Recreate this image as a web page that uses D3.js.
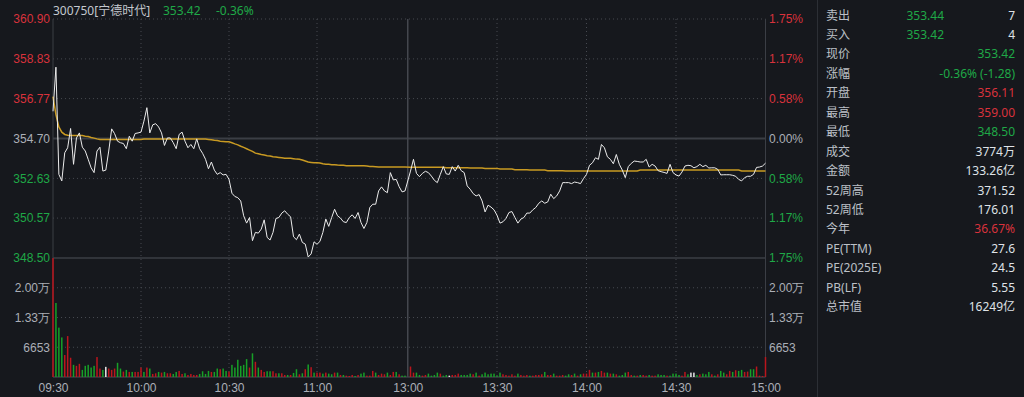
<!DOCTYPE html>
<html>
<head>
<meta charset="utf-8">
<script src="https://cdn.jsdelivr.net/npm/d3@7"></script>
<style>
  html, body { margin: 0; padding: 0; background: #16181d; }
  svg { display: block; font-family: "Noto Sans", "Noto Sans CJK SC", sans-serif; }
</style>
</head>
<body>
<div id="chart"></div>
<script>
// 300750 宁德时代 intraday, one value per minute (09:30-11:30, 13:01-15:00)
const prevClose = 354.70;

const price = [
  356.11, 358.40, 352.84, 352.50, 353.96, 354.22, 355.22, 353.36, 354.73, 354.99,
  354.25, 354.05, 353.62, 353.18, 352.93, 354.05, 354.25, 353.01, 353.06, 354.05,
  355.20, 354.95, 354.56, 354.48, 354.44, 354.17, 354.82, 354.56, 354.96, 354.99,
  355.03, 355.60, 356.30, 354.99, 355.41, 355.47, 355.30, 354.99, 354.34, 354.73,
  354.73, 354.48, 354.17, 354.91, 355.03, 354.56, 354.22, 354.39, 354.17, 354.68,
  354.17, 353.93, 353.62, 353.13, 353.48, 353.06, 352.84, 352.93, 352.81, 352.84,
  352.58, 351.86, 351.69, 351.63, 351.46, 350.69, 350.31, 350.60, 349.40, 349.83,
  349.79, 350.00, 350.48, 349.57, 349.43, 349.83, 350.55, 350.60, 350.83, 350.95,
  350.77, 350.64, 349.60, 349.45, 349.74, 349.31, 349.22, 348.55, 348.71, 349.34,
  349.21, 349.36, 349.83, 350.52, 350.14, 350.60, 351.03, 350.69, 350.57, 350.38,
  350.34, 350.60, 350.74, 350.55, 350.86, 350.34, 350.03, 350.34, 351.12, 351.29,
  351.29, 351.98, 352.19, 351.98, 351.89, 352.93, 352.55, 352.58, 352.20, 351.93,
  351.98, 353.01, 353.62, 352.89, 352.72, 352.89, 353.00, 352.93, 352.75, 352.53,
  352.41, 352.84, 353.24, 352.86, 352.84, 353.24, 353.01, 353.31, 353.03, 352.93,
  352.24, 352.07, 351.84, 351.72, 351.79, 351.46, 350.89, 351.24, 351.14, 351.00,
  350.72, 350.31, 350.38, 350.55, 350.86, 350.91, 350.60, 350.31, 350.52, 350.60,
  350.83, 350.83, 351.00, 351.12, 351.34, 351.46, 351.34, 351.41, 351.81, 351.58,
  351.72, 351.98, 352.41, 352.41, 352.41, 352.36, 352.44, 352.41, 352.36, 352.62,
  352.84, 353.31, 353.44, 353.70, 353.62, 354.39, 354.22, 353.75, 353.62, 353.39,
  353.87, 353.36, 353.06, 352.67, 353.24, 353.41, 353.53, 353.51, 353.48, 353.48,
  353.62, 353.22, 353.36, 353.27, 353.03, 352.98, 352.94, 352.89, 353.36, 352.93,
  352.81, 352.75, 352.96, 353.27, 353.31, 353.29, 353.18, 353.24, 353.36, 353.24,
  353.31, 353.17, 353.18, 353.18, 353.10, 352.81, 352.82, 352.82, 352.82, 352.79,
  352.74, 352.58, 352.50, 352.67, 352.74, 352.74, 352.84, 353.20, 353.22, 353.27,
  353.42
];

const avgPrice = [
  356.87, 355.94, 355.30, 355.03, 354.91, 354.87, 354.85, 354.85, 354.85, 354.85,
  354.85, 354.82, 354.80, 354.75, 354.72, 354.68, 354.65, 354.65, 354.65, 354.65,
  354.65, 354.65, 354.65, 354.65, 354.65, 354.65, 354.65, 354.65, 354.65, 354.65,
  354.65, 354.67, 354.67, 354.67, 354.67, 354.67, 354.67, 354.67, 354.67, 354.67,
  354.67, 354.68, 354.68, 354.68, 354.68, 354.68, 354.68, 354.68, 354.68, 354.68,
  354.68, 354.68, 354.67, 354.65, 354.63, 354.61, 354.60, 354.56, 354.55, 354.53,
  354.53, 354.48, 354.42, 354.37, 354.30, 354.24, 354.17, 354.10, 354.03, 353.94,
  353.91, 353.87, 353.84, 353.80, 353.79, 353.75, 353.74, 353.72, 353.70, 353.68,
  353.67, 353.67, 353.65, 353.63, 353.62, 353.58, 353.53, 353.48, 353.46, 353.44,
  353.44, 353.43, 353.39, 353.37, 353.36, 353.34, 353.34, 353.32, 353.31, 353.31,
  353.29, 353.29, 353.29, 353.29, 353.29, 353.29, 353.29, 353.27, 353.25, 353.25,
  353.24, 353.22, 353.22, 353.22, 353.22, 353.22, 353.22, 353.22, 353.22, 353.22,
  353.22, 353.21, 353.21, 353.21, 353.21, 353.21, 353.21, 353.21, 353.21, 353.21,
  353.21, 353.21, 353.21, 353.18, 353.18, 353.18, 353.18, 353.18, 353.18, 353.18,
  353.18, 353.17, 353.17, 353.17, 353.17, 353.17, 353.15, 353.15, 353.15, 353.15,
  353.15, 353.12, 353.12, 353.12, 353.12, 353.12, 353.08, 353.08, 353.08, 353.08,
  353.08, 353.06, 353.06, 353.06, 353.06, 353.06, 353.06, 353.03, 353.03, 353.03,
  353.03, 353.03, 353.03, 353.01, 353.01, 353.01, 353.01, 353.01, 353.01, 353.01,
  353.01, 353.01, 353.01, 353.01, 353.01, 353.01, 353.01, 353.01, 353.01, 353.01,
  353.01, 353.01, 353.01, 353.01, 353.01, 353.01, 353.01, 353.01, 353.06, 353.06,
  353.06, 353.06, 353.06, 353.06, 353.06, 353.06, 353.06, 353.06, 353.06, 353.06,
  353.06, 353.06, 353.06, 353.06, 353.06, 353.06, 353.06, 353.06, 353.06, 353.06,
  353.06, 353.06, 353.06, 353.06, 353.06, 353.06, 353.06, 353.06, 353.06, 353.06,
  353.06, 353.06, 353.01, 353.01, 353.01, 353.01, 353.01, 353.01, 353.01, 353.01,
  353.01
];

const volume = [
  26600, 16556, 11038, 8845, 4914, 9148, 4309, 2722, 2495, 2948,
  1588, 2495, 2722, 2117, 2495, 4460, 1890, 1588, 2268, 1890,
  1588, 1890, 3175, 1890, 1210, 1588, 1134, 1134, 1134, 1134,
  2117, 1134, 2117, 1890, 680, 832, 1134, 983, 1134, 832,
  832, 680, 1134, 1361, 680, 832, 454, 680, 454, 454,
  680, 1285, 680, 1361, 1134, 1134, 1890, 1739, 1890, 1361,
  1210, 2722, 2117, 3856, 2495, 2722, 4007, 2117, 5292, 3402,
  2117, 1588, 1134, 1285, 1285, 1285, 832, 832, 832, 454,
  454, 454, 907, 1739, 605, 832, 1739, 2797, 2192, 983,
  983, 983, 756, 983, 756, 605, 983, 983, 454, 454,
  302, 227, 454, 227, 454, 756, 983, 302, 302, 1361,
  983, 454, 756, 605, 983, 454, 1134, 1134, 605, 302,
  302, 2344, 983, 983, 454, 302, 454, 756, 302, 454,
  983, 756, 302, 454, 302, 454, 454, 756, 454, 454,
  454, 756, 605, 983, 302, 605, 983, 605, 756, 756,
  302, 983, 605, 454, 302, 605, 302, 756, 454, 302,
  454, 302, 302, 454, 454, 605, 1134, 454, 454, 756,
  302, 302, 454, 302, 605, 454, 756, 302, 605, 756,
  756, 1588, 983, 983, 1134, 1361, 983, 983, 756, 756,
  605, 302, 454, 983, 1134, 454, 302, 302, 454, 454,
  302, 454, 302, 302, 605, 454, 454, 302, 302, 756,
  756, 454, 302, 1134, 605, 983, 983, 454, 605, 756,
  605, 1134, 605, 302, 605, 1361, 983, 605, 1361, 1134,
  1512, 1361, 1588, 1134, 1210, 1739, 1739, 2344, 302, 227,
  4460
];

// bar direction per minute: r = up, g = down, w = unchanged
const volDir = (
  'rgggrrrgrr' + 'gggggrrgwr' + 'rrggrgrgrr' + 'rgrgrrgrgr' + 'rggrrgrrrr' +
  'ggggrggrgg' + 'rggggggrgr' + 'grrggrrgrr' + 'grggrgrgrg' + 'rrgrggrgrg' +
  'rrrgrggrrr' + 'grrrgrrgrg' + 'grrggrrggg' + 'grggwrrrgg' + 'ggrgrggggg' +
  'ggrrrrrgrr' + 'rgrrrrgrrg' + 'rrrggrgrgr' + 'rrgrgrrgrg' + 'rgggrrgrgr' +
  'rgrrgggrgg' + 'ggrrgwwgrg' + 'ggrgrggrrg' + 'rggrrggrrr' + 'r'
).split('');

const priceTicks = [348.50, 350.57, 352.63, 354.70, 356.77, 358.83, 360.90];
const priceLabels = ['348.50', '350.57', '352.63', '354.70', '356.77', '358.83', '360.90'];
const pctLabels = ['1.75%', '1.17%', '0.58%', '0.00%', '0.58%', '1.17%', '1.75%'];
const volTicks = [6653, 13306, 19959];
const volLabels = ['6653', '1.33万', '2.00万'];
const volMax = 26612;
const timeIdx = [0, 30, 60, 90, 120.5, 150, 180, 210, 240];
const timeLabels = ['09:30', '10:00', '10:30', '11:00', '13:00', '13:30', '14:00', '14:30', '15:00'];

const panelLabels = ['卖出', '买入', '现价', '涨幅', '开盘', '最高', '最低', '成交', '金额',
  '52周高', '52周低', '今年', 'PE(TTM)', 'PE(2025E)', 'PB(LF)', '总市值'];
const panelValues = ['7', '4', '353.42', '-0.36% (-1.28)', '356.11', '359.00', '348.50', '3774万',
  '133.26亿', '371.52', '176.01', '36.67%', '27.6', '24.5', '5.55', '16249亿'];
const panelTone = ['plain', 'plain', 'down', 'down', 'up', 'up', 'down', 'plain',
  'plain', 'plain', 'plain', 'up', 'plain', 'plain', 'plain', 'plain'];
const bookPrices = ['353.44', '353.42'];

const header = { name: '300750[宁德时代]', last: '353.42', change: '-0.36%' };

// ---- drawing ----
const W = 1024, H = 397;
const plotLeft = 53, plotRight = 765.5, plotTop = 19, priceBottom = 258, volBottom = 377;
const RED = '#d9323c', GREEN = '#1fa847', GREY = '#abafb7';
const toneColor = { up: RED, down: GREEN, plain: '#dfe2e7' };
const barColor = { r: '#bb151d', g: '#17a027', w: '#e8e8e8' };
const priceTone = d => Math.abs(d - prevClose) < 0.001 ? GREY : (d > prevClose ? RED : GREEN);

const svg = d3.select('#chart').append('svg')
  .attr('width', W)
  .attr('height', H);

svg.append('rect').attr('width', W).attr('height', H).attr('fill', '#16181d');

// morning and afternoon sessions sit slightly apart at the lunch break
const x = d3.scaleLinear()
  .domain([0, 120, 121, 240])
  .range([plotLeft, 405, 410.5, plotRight]);

const y = d3.scaleLinear()
  .domain([priceTicks[0], priceTicks[priceTicks.length - 1]])
  .range([priceBottom, plotTop]);

const yv = d3.scaleLinear()
  .domain([0, volMax])
  .range([volBottom, priceBottom]);

const dotted = '1,3';
const gridColor = '#464950';
const solidColor = '#3b3e45';

// horizontal grid, price area
svg.append('g').selectAll('line')
  .data(priceTicks.filter(d => d !== prevClose && d !== priceTicks[0]))
  .enter().append('line')
  .attr('x1', plotLeft).attr('x2', plotRight)
  .attr('y1', d => y(d)).attr('y2', d => y(d))
  .attr('stroke', gridColor)
  .attr('stroke-dasharray', dotted);

// horizontal grid, volume area
svg.append('g').selectAll('line')
  .data(volTicks)
  .enter().append('line')
  .attr('x1', plotLeft).attr('x2', plotRight)
  .attr('y1', d => yv(d)).attr('y2', d => yv(d))
  .attr('stroke', gridColor)
  .attr('stroke-dasharray', dotted);

// vertical grid every half hour
svg.append('g').selectAll('line')
  .data(timeIdx.filter((d, i) => i > 0 && i < timeIdx.length - 1 && timeLabels[i] !== '13:00'))
  .enter().append('line')
  .attr('x1', d => x(d)).attr('x2', d => x(d))
  .attr('y1', plotTop).attr('y2', volBottom)
  .attr('stroke', gridColor)
  .attr('stroke-dasharray', dotted);

// solid frame lines
const frame = svg.append('g').attr('stroke', solidColor);
frame.append('line').attr('x1', plotLeft).attr('x2', plotLeft).attr('y1', plotTop).attr('y2', volBottom);
frame.append('line').attr('x1', plotRight).attr('x2', plotRight).attr('y1', plotTop).attr('y2', volBottom);
frame.append('line').attr('x1', plotLeft).attr('x2', plotRight)
  .attr('y1', y(prevClose)).attr('y2', y(prevClose)).attr('stroke-width', 2);
frame.append('line').attr('x1', plotLeft).attr('x2', plotRight)
  .attr('y1', priceBottom).attr('y2', priceBottom).attr('stroke-width', 1.5);
frame.append('line').attr('x1', plotLeft).attr('x2', plotRight)
  .attr('y1', volBottom).attr('y2', volBottom).attr('stroke-width', 1.5);
frame.append('line')
  .attr('x1', x(timeIdx[4])).attr('x2', x(timeIdx[4]))
  .attr('y1', plotTop).attr('y2', volBottom)
  .attr('stroke', '#44474e')
  .attr('stroke-width', 1.5);

// volume bars
svg.append('g').selectAll('rect')
  .data(volume)
  .enter().append('rect')
  .attr('x', (d, i) => x(i) - 0.75)
  .attr('y', d => yv(d))
  .attr('width', 1.5)
  .attr('height', d => volBottom - yv(d))
  .attr('fill', (d, i) => barColor[volDir[i]]);

// average price line
svg.append('path')
  .datum(avgPrice)
  .attr('fill', 'none')
  .attr('stroke', '#c99a22')
  .attr('stroke-width', 1.5)
  .attr('d', d3.line().x((d, i) => x(i)).y(d => y(d)));

// price line
svg.append('path')
  .datum(price)
  .attr('fill', 'none')
  .attr('stroke', '#ececec')
  .attr('stroke-width', 1)
  .attr('d', d3.line().x((d, i) => x(i)).y(d => y(d)));

// left price axis
const axL = svg.append('g')
  .attr('transform', `translate(${plotLeft - 3},0)`)
  .call(d3.axisLeft(y).tickValues(priceTicks).tickSize(0).tickPadding(0)
    .tickFormat((d, i) => priceLabels[i]));
axL.select('.domain').remove();
axL.selectAll('text')
  .attr('fill', d => priceTone(d))
  .style('font-size', '12px');

// right percent axis
const axR = svg.append('g')
  .attr('transform', `translate(${plotRight + 3.5},0)`)
  .call(d3.axisRight(y).tickValues(priceTicks).tickSize(0).tickPadding(0)
    .tickFormat((d, i) => pctLabels[i]));
axR.select('.domain').remove();
axR.selectAll('text')
  .attr('fill', d => priceTone(d))
  .style('font-size', '12px');

// volume axes
const vL = svg.append('g')
  .attr('transform', `translate(${plotLeft - 3},0)`)
  .call(d3.axisLeft(yv).tickValues(volTicks).tickSize(0).tickPadding(0)
    .tickFormat((d, i) => volLabels[i]));
vL.select('.domain').remove();
vL.selectAll('text').attr('fill', GREY).style('font-size', '12px');

const vR = svg.append('g')
  .attr('transform', `translate(${plotRight + 3.5},0)`)
  .call(d3.axisRight(yv).tickValues(volTicks).tickSize(0).tickPadding(0)
    .tickFormat((d, i) => volLabels[i]));
vR.select('.domain').remove();
vR.selectAll('text').attr('fill', GREY).style('font-size', '12px');

// time axis
const axB = svg.append('g')
  .attr('transform', `translate(0,${volBottom})`)
  .call(d3.axisBottom(x).tickValues(timeIdx).tickSize(0).tickPadding(6)
    .tickFormat((d, i) => timeLabels[i]));
axB.select('.domain').remove();
axB.selectAll('text').attr('fill', GREY).style('font-size', '12px');

// header
const head = svg.append('g').style('font-size', '12px');
head.append('text').attr('x', plotLeft).attr('y', 10).attr('dominant-baseline', 'central')
  .attr('fill', '#c4c8cf').text(header.name);
head.append('text').attr('x', 163).attr('y', 10).attr('dominant-baseline', 'central')
  .attr('fill', GREEN).text(header.last);
head.append('text').attr('x', 216).attr('y', 10).attr('dominant-baseline', 'central')
  .attr('fill', GREEN).text(header.change);

// right info panel
svg.append('line')
  .attr('x1', 817.5).attr('x2', 817.5)
  .attr('y1', 0).attr('y2', H)
  .attr('stroke', '#2c2f35');

const row = d3.scaleLinear().domain([0, panelLabels.length - 1]).range([15, 306.75]);

const panel = svg.append('g').style('font-size', '12px');

panel.selectAll('.plabel')
  .data(panelLabels)
  .enter().append('text')
  .attr('class', 'plabel')
  .attr('x', 826)
  .attr('y', (d, i) => row(i))
  .attr('dominant-baseline', 'central')
  .attr('fill', '#bcc0c7')
  .text(d => d);

panel.selectAll('.pvalue')
  .data(panelValues)
  .enter().append('text')
  .attr('class', 'pvalue')
  .attr('x', 1015)
  .attr('y', (d, i) => row(i))
  .attr('dominant-baseline', 'central')
  .attr('text-anchor', 'end')
  .attr('fill', (d, i) => toneColor[panelTone[i]])
  .text(d => d);

panel.selectAll('.pbook')
  .data(bookPrices)
  .enter().append('text')
  .attr('class', 'pbook')
  .attr('x', 944)
  .attr('y', (d, i) => row(i))
  .attr('dominant-baseline', 'central')
  .attr('text-anchor', 'end')
  .attr('fill', GREEN)
  .text(d => d);
</script>
</body>
</html>
